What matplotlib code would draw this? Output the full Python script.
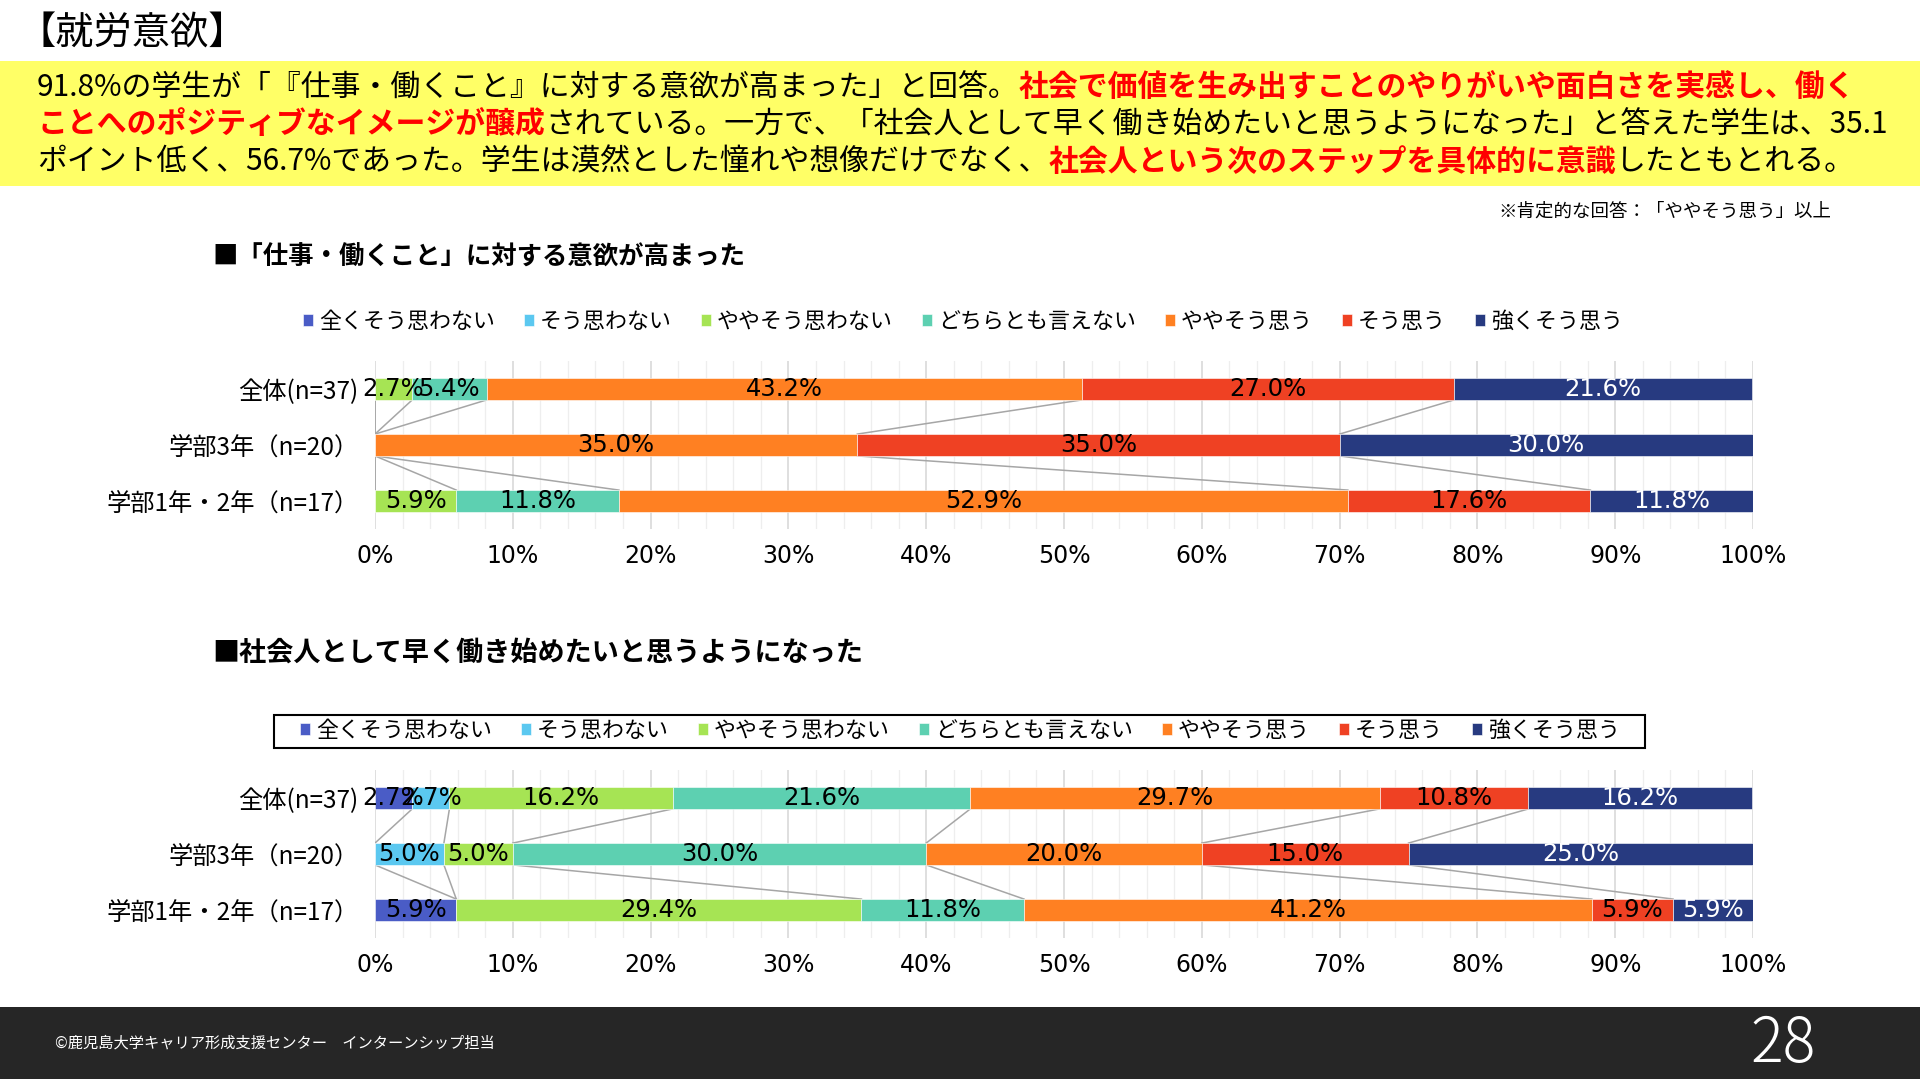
import matplotlib
matplotlib.use('Agg')
import matplotlib.pyplot as plt
from matplotlib.patches import Rectangle
from matplotlib.ticker import FuncFormatter
import numpy as np

plt.rcParams['font.family'] = ['Noto Sans CJK JP', 'DejaVu Sans']

# ── Canvas (pixel based layout) ───────────────────────────────────────────────
W_PX, H_PX, DPI = 1920, 1079, 100


def fx(px):
    return px / W_PX


def fy(py):
    return 1 - py / H_PX


# ── Palette ───────────────────────────────────────────────────────────────────
YELLOW    = "#FFFF66"
RED_TXT   = "#FF0000"
FOOTER_BG = "#262626"
GRID_MAJ  = "#D9D9D9"
GRID_MIN  = "#EEEEEE"
LINE_COL  = "#A6A6A6"
NUM_FONT  = ['DejaVu Sans']

# ── Data ──────────────────────────────────────────────────────────────────────
SERIES = ["全くそう思わない", "そう思わない", "ややそう思わない", "どちらとも言えない",
          "ややそう思う", "そう思う", "強くそう思う"]
COLORS = ["#4A5CC6", "#5BC8F0", "#A6E454", "#5DD0B1", "#FF8022", "#EF4123", "#273A80"]
LABEL_COLORS = ["black"] * 6 + ["white"]

CATEGORIES = ["全体(n=37)", "学部3年（n=20）", "学部1年・2年（n=17）"]

# 「仕事・働くこと」に対する意欲が高まった
Q1_ALL   = [0.0, 0.0, 2.7, 5.4, 43.2, 27.0, 21.6]
Q1_Y3    = [0.0, 0.0, 0.0, 0.0, 35.0, 35.0, 30.0]
Q1_Y12   = [0.0, 0.0, 5.9, 11.8, 52.9, 17.6, 11.8]

# 社会人として早く働き始めたいと思うようになった
Q2_ALL   = [2.7, 2.7, 16.2, 21.6, 29.7, 10.8, 16.2]
Q2_Y3    = [0.0, 5.0, 5.0, 30.0, 20.0, 15.0, 25.0]
Q2_Y12   = [5.9, 0.0, 29.4, 11.8, 41.2, 5.9, 5.9]

XTICKS = list(range(0, 101, 10))

BAR_H = 0.39


# ════════════════════════════════════════════════════════════════════════════
#  HELPERS
# ════════════════════════════════════════════════════════════════════════════

def draw_stacked(ax, rows):
    """Stacked 100% horizontal bars with Excel-like series lines."""
    y = np.arange(len(rows))
    data = np.array(rows)
    left = np.zeros(len(rows))
    ends = []
    handles = []
    for i, (name, col) in enumerate(zip(SERIES, COLORS)):
        vals = data[:, i]
        bars = ax.barh(y, vals, left=left, height=BAR_H, color=col,
                       edgecolor='white', linewidth=0.4, zorder=3, label=name)
        labels = [f"{v:.1f}%" if v > 0 else "" for v in vals]
        ax.bar_label(bars, labels=labels, label_type='center', fontsize=17.5,
                     color=LABEL_COLORS[i], family=NUM_FONT, zorder=5)
        left = left + vals
        ends.append(left.copy())
        handles.append(bars)

    # series lines between neighbouring bars
    for e in ends[:-1]:
        for r in range(len(rows) - 1):
            ax.plot([e[r], e[r + 1]], [r + BAR_H / 2, r + 1 - BAR_H / 2],
                    color=LINE_COL, lw=1.1, zorder=2)

    ax.set_xlim(0, 100)
    ax.set_ylim(len(rows) - 0.5, -0.5)
    ax.set_xticks(XTICKS)
    ax.set_xticks(range(0, 101, 2), minor=True)
    ax.xaxis.set_major_formatter(FuncFormatter(lambda v, p: f"{v:.0f}%"))
    ax.grid(axis='x', which='major', color=GRID_MAJ, lw=1.2, zorder=0)
    ax.grid(axis='x', which='minor', color=GRID_MIN, lw=0.9, zorder=0)
    ax.set_axisbelow(True)
    ax.set_yticks(y, CATEGORIES, fontsize=17.5)
    for lbl in ax.get_xticklabels():
        lbl.set_fontfamily(NUM_FONT)
        lbl.set_fontsize(17)
    ax.tick_params(axis='x', which='both', length=0, pad=11)
    ax.tick_params(axis='y', length=0, pad=12)
    for s in ax.spines.values():
        s.set_visible(False)
    return handles


def draw_legend(fig, handles, cx, cy):
    leg = fig.legend(handles, SERIES, ncol=7, loc='center',
                     bbox_to_anchor=(fx(cx), fy(cy)), frameon=False,
                     fontsize=15.8, handlelength=0.45, handleheight=0.5,
                     handletextpad=0.25, columnspacing=1.35)
    return leg


def draw_rich_line(fig, x_px, y_px, parts, size):
    """Write coloured text pieces one after another on a single line."""
    renderer = fig.canvas.get_renderer()
    x = x_px
    for txt, col, weight in parts:
        t = fig.text(fx(x), fy(y_px), txt, ha='left', va='center',
                     fontsize=size, color=col, fontweight=weight)
        bb = t.get_window_extent(renderer)
        x += bb.width


# ════════════════════════════════════════════════════════════════════════════
#  MAIN DRAW
# ════════════════════════════════════════════════════════════════════════════

fig = plt.figure(figsize=(W_PX / DPI, H_PX / DPI), dpi=DPI)
fig.patch.set_facecolor('white')

# ── Header ─────────────────────────────────────────────────────────────────
fig.text(fx(18), fy(34), "【就労意欲】", ha='left', va='center', fontsize=27.5)

fig.patches.append(Rectangle((0, fy(186)), 1, (186 - 61) / H_PX,
                             transform=fig.transFigure, facecolor=YELLOW,
                             edgecolor='none', zorder=0))

TXT = 21.5
draw_rich_line(fig, 37, 88, [
    ("91.8%の学生が「『仕事・働くこと』に対する意欲が高まった」と回答。", "black", "normal"),
    ("社会で価値を生み出すことのやりがいや面白さを実感し、働く", RED_TXT, "bold"),
], TXT)
draw_rich_line(fig, 37, 125, [
    ("ことへのポジティブなイメージが醸成", RED_TXT, "bold"),
    ("されている。一方で、「社会人として早く働き始めたいと思うようになった」と答えた学生は、35.1",
     "black", "normal"),
], TXT)
draw_rich_line(fig, 37, 162, [
    ("ポイント低く、56.7%であった。学生は漠然とした憧れや想像だけでなく、", "black", "normal"),
    ("社会人という次のステップを具体的に意識", RED_TXT, "bold"),
    ("したともとれる。", "black", "normal"),
], TXT)

fig.text(fx(1831), fy(212), "※肯定的な回答：「ややそう思う」以上",
         ha='right', va='center', fontsize=13.3)

# ── Chart 1 ────────────────────────────────────────────────────────────────
fig.text(fx(212), fy(257), "■「仕事・働くこと」に対する意欲が高まった",
         ha='left', va='center', fontsize=18.3, fontweight='bold')
ax1 = fig.add_axes([fx(375), fy(529), (1753 - 375) / W_PX, 168 / H_PX])
h1 = draw_stacked(ax1, [Q1_ALL, Q1_Y3, Q1_Y12])
draw_legend(fig, h1, 963, 322)

# ── Chart 2 ────────────────────────────────────────────────────────────────
fig.text(fx(212), fy(653), "■社会人として早く働き始めたいと思うようになった",
         ha='left', va='center', fontsize=19.5, fontweight='bold')
ax2 = fig.add_axes([fx(375), fy(938), (1753 - 375) / W_PX, 168 / H_PX])
h2 = draw_stacked(ax2, [Q2_ALL, Q2_Y3, Q2_Y12])
draw_legend(fig, h2, 960, 731)
fig.patches.append(Rectangle((fx(274), fy(748)), (1645 - 274) / W_PX, 33 / H_PX,
                             transform=fig.transFigure, fill=False,
                             edgecolor='black', linewidth=1.5, zorder=1))

# ── Footer ─────────────────────────────────────────────────────────────────
fig.patches.append(Rectangle((0, 0), 1, (H_PX - 1007) / H_PX,
                             transform=fig.transFigure, facecolor=FOOTER_BG,
                             edgecolor='none', zorder=0))
fig.text(fx(55), fy(1043), "©鹿児島大学キャリア形成支援センター　インターンシップ担当",
         ha='left', va='center', fontsize=11, color='white')
fig.text(fx(1783), fy(1045), "28", ha='center', va='center', fontsize=44,
         color='white', fontweight='light')

fig.savefig("out.png", dpi=DPI, facecolor='white')
plt.close(fig)
